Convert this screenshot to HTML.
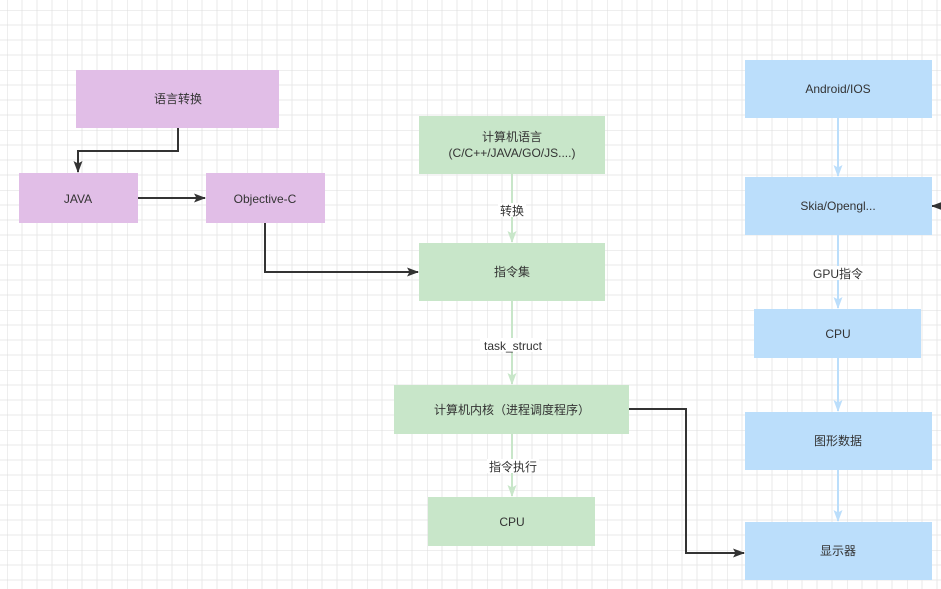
<!DOCTYPE html>
<html><head><meta charset="utf-8"><style>
html,body{margin:0;padding:0;background:#fff}
svg{display:block}
text{font-family:"Liberation Sans","Noto Sans CJK SC",sans-serif;font-size:12px;fill:#333}
</style></head><body>
<svg width="941" height="589" viewBox="0 0 941 589" xmlns="http://www.w3.org/2000/svg">
<defs>
<pattern id="g" x="7" y="10" width="60" height="60" patternUnits="userSpaceOnUse">
<path d="M15 0V60M30 0V60M45 0V60M0 15H60M0 30H60M0 45H60" stroke="#e9e9e9" stroke-width="1"/>
<path d="M0 0V60M0 0H60" stroke="#dcdcdc" stroke-width="1"/>
</pattern>
<marker id="ad" markerWidth="12" markerHeight="12" refX="11" refY="6" orient="auto" markerUnits="userSpaceOnUse"><path d="M0 1.5L12 6L0 10.5L2.5 6Z" fill="#333"/></marker>
<marker id="ag" markerWidth="12" markerHeight="12" refX="11" refY="6" orient="auto" markerUnits="userSpaceOnUse"><path d="M0 1.5L12 6L0 10.5L2.5 6Z" fill="#c8e6c9"/></marker>
<marker id="ab" markerWidth="12" markerHeight="12" refX="11" refY="6" orient="auto" markerUnits="userSpaceOnUse"><path d="M0 1.5L12 6L0 10.5L2.5 6Z" fill="#bbdefb"/></marker>
</defs>
<rect width="941" height="589" fill="url(#g)"/>
<g fill="none" stroke-width="2">
<path d="M178 128V151H78V172" stroke="#333" marker-end="url(#ad)"/>
<path d="M138 198H205" stroke="#333" marker-end="url(#ad)"/>
<path d="M265 223V272H418" stroke="#333" marker-end="url(#ad)"/>
<path d="M629 409H686V553H744" stroke="#333" marker-end="url(#ad)"/>
<path d="M941 206H932" stroke="#333" marker-end="url(#ad)"/>
<path d="M512 174V242" stroke="#c8e6c9" marker-end="url(#ag)"/>
<path d="M512 301V384" stroke="#c8e6c9" marker-end="url(#ag)"/>
<path d="M512 434V496" stroke="#c8e6c9" marker-end="url(#ag)"/>
<path d="M838 118V176" stroke="#bbdefb" marker-end="url(#ab)"/>
<path d="M838 235V308" stroke="#bbdefb" marker-end="url(#ab)"/>
<path d="M838 358V411" stroke="#bbdefb" marker-end="url(#ab)"/>
<path d="M838 470V521" stroke="#bbdefb" marker-end="url(#ab)"/>
</g>
<g>
<rect x="76" y="70" width="203" height="58" fill="#e1bee7"/>
<rect x="19" y="173" width="119" height="50" fill="#e1bee7"/>
<rect x="206" y="173" width="119" height="50" fill="#e1bee7"/>
<rect x="419" y="116" width="186" height="58" fill="#c8e6c9"/>
<rect x="419" y="243" width="186" height="58" fill="#c8e6c9"/>
<rect x="394" y="385" width="235" height="49" fill="#c8e6c9"/>
<rect x="428" y="497" width="167" height="49" fill="#c8e6c9"/>
<rect x="745" y="60" width="187" height="58" fill="#bbdefb"/>
<rect x="745" y="177" width="187" height="58" fill="#bbdefb"/>
<rect x="754" y="309" width="167" height="49" fill="#bbdefb"/>
<rect x="745" y="412" width="187" height="58" fill="#bbdefb"/>
<rect x="745" y="522" width="187" height="58" fill="#bbdefb"/>
</g>
<g fill="#fff">
<rect x="498" y="203" width="28" height="14"/>
<rect x="480" y="338" width="66" height="14"/>
<rect x="487" y="459" width="52" height="14"/>
<rect x="812" y="266" width="54" height="14"/>
</g>
<g text-anchor="middle">
<text x="178" y="103">语言转换</text>
<text x="78" y="203">JAVA</text>
<text x="265" y="203">Objective-C</text>
<text x="512" y="141">计算机语言</text>
<text x="512" y="157">(C/C++/JAVA/GO/JS....)</text>
<text x="512" y="276">指令集</text>
<text x="512" y="414">计算机内核（进程调度程序）</text>
<text x="512" y="526">CPU</text>
<text x="512" y="215">转换</text>
<text x="513" y="350">task_struct</text>
<text x="513" y="471">指令执行</text>
<text x="838" y="93">Android/IOS</text>
<text x="838" y="210">Skia/Opengl...</text>
<text x="838" y="278">GPU指令</text>
<text x="838" y="338">CPU</text>
<text x="838" y="445">图形数据</text>
<text x="838" y="555">显示器</text>
</g>
</svg>
</body></html>
